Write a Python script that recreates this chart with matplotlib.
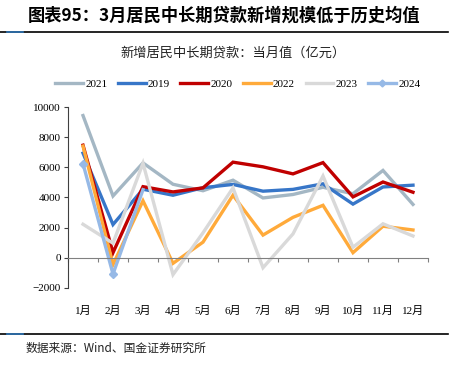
import matplotlib
matplotlib.use("Agg")
import matplotlib.pyplot as plt
from matplotlib.lines import Line2D

plt.rcParams["font.family"] = ["Liberation Serif", "Noto Sans CJK SC"]

# data (亿元)
months = ["1月", "2月", "3月", "4月", "5月", "6月", "7月", "8月", "9月", "10月", "11月", "12月"]
v2021 = [9450, 4100, 6300, 4880, 4450, 5150, 3970, 4200, 4680, 4250, 5800, 3540]
v2019 = [6950, 2200, 4550, 4150, 4650, 4870, 4420, 4540, 4910, 3560, 4700, 4820]
v2020 = [7480, 330, 4720, 4370, 4640, 6350, 6040, 5570, 6320, 4040, 5030, 4350]
v2022 = [7420, -460, 3780, -380, 1030, 4150, 1500, 2680, 3480, 330, 2090, 1840]
v2023 = [2220, 960, 6280, -1130, 1650, 4640, -670, 1580, 5430, 690, 2250, 1440]
v2024 = [6250, -1090, 4520]

series = [
    ("2021", v2021, "#A4B7C4"),
    ("2019", v2019, "#3776C8"),
    ("2020", v2020, "#C00000"),
    ("2022", v2022, "#FFAA3A"),
    ("2023", v2023, "#D9D9D9"),
    ("2024", v2024, "#96B9E6"),
]

fig = plt.figure(figsize=(4.57, 3.72), dpi=100)
ax = fig.add_axes([0.1488, 0.2266, 0.7877, 0.485])

x = list(range(1, 13))
handles = []
for name, vals, col in series:
    if name == "2024":
        ax.plot(x[:len(vals)], vals, color=col, lw=2.4, marker="D", ms=4.5,
                markevery=[0, 1], solid_joinstyle="miter")
        handles.append(Line2D([], [], color=col, lw=2.4, marker="D", ms=3.5,
                              markevery=[1]))
    else:
        ax.plot(x[:len(vals)], vals, color=col, lw=2.4, solid_joinstyle="miter")
        handles.append(Line2D([], [], color=col, lw=2.4))

ax.set_xlim(0.5, 12.5)
ax.set_ylim(-2000, 10000)
ax.set_yticks(range(-2000, 10001, 2000))
ax.tick_params(axis="y", direction="out", length=3, labelsize=8, pad=2,
               color="#404040")

for s in ["top", "right"]:
    ax.spines[s].set_visible(False)
ax.spines["left"].set_color("#404040")
ax.spines["left"].set_linewidth(0.8)
ax.spines["bottom"].set_position(("data", 0))
ax.spines["bottom"].set_color("#808080")
ax.spines["bottom"].set_linewidth(0.8)

# tick marks between categories on the zero line, labels at the bottom
ax.set_xticks([i + 0.5 for i in range(13)])
ax.set_xticklabels([])
ax.tick_params(axis="x", which="major", direction="out", length=3,
               color="#808080")
ax.set_xticks(x, minor=True)
ax.set_xticklabels(months, minor=True)
ax.tick_params(axis="x", which="minor", length=0, labelsize=8, pad=35)

leg = fig.legend(handles, [s[0] for s in series], loc="center",
                 bbox_to_anchor=(0.52, 0.775), ncol=6, frameon=False,
                 fontsize=8, handlelength=2.5, handletextpad=0.2,
                 columnspacing=0.95)

fig.text(0.51, 0.857, "新增居民中长期贷款：当月值（亿元）", ha="center",
         va="center", fontsize=9.5, family="Noto Sans CJK SC", color="#222222")

fig.text(0.06, 0.957, "图表95：3月居民中长期贷款新增规模低于历史均值",
         ha="left", va="center", fontsize=12.4, fontweight="bold",
         style="italic", family="Noto Sans CJK SC")

fig.add_artist(Line2D([0.0, 0.98], [0.914, 0.914], color="black", lw=1.2))
fig.add_artist(Line2D([0.015, 0.05], [0.914, 0.914], color="#2E75B6", lw=1.2))
fig.add_artist(Line2D([0.0, 0.98], [0.102, 0.102], color="black", lw=1.2))
fig.add_artist(Line2D([0.015, 0.05], [0.102, 0.102], color="#2E75B6", lw=1.2))

fig.text(0.055, 0.064, "数据来源：Wind、国金证券研究所", ha="left", va="center",
         fontsize=8.5, family="Noto Sans CJK SC", color="#222222")

fig.savefig("out.png", dpi=100)
